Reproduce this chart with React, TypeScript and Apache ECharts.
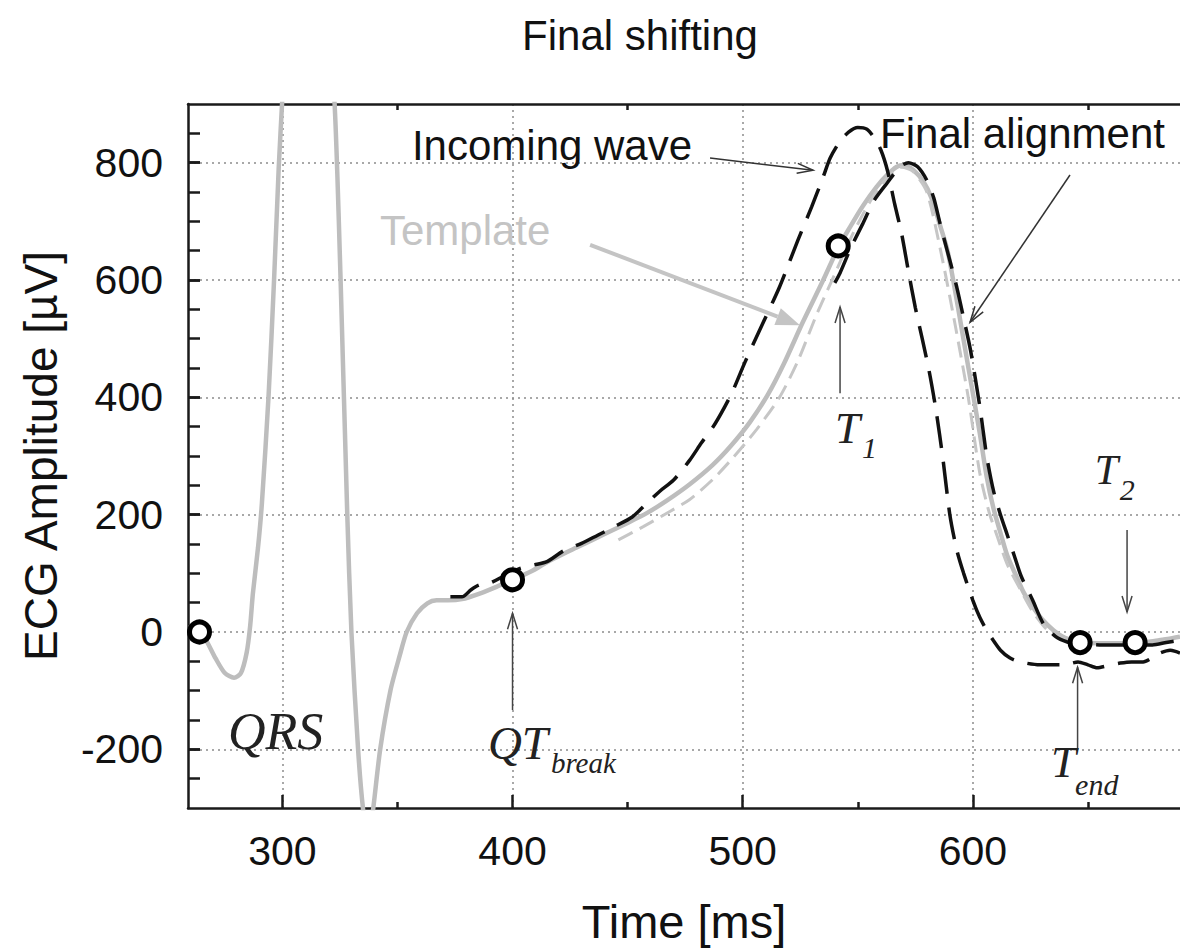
import React, { useEffect, useRef } from "react";
import * as echarts from "echarts";

type Pt = [number, number];

// ---------------- data (time in ms, amplitude in µV) ----------------
const templateWave: Pt[] = [
  [259, 8], [262, 4], [264, 0], [267, -15], [271, -45], [275, -70], [279, -78], [282, -70],
  [284.5, -35], [286, 10], [287.2, 66], [289.4, 143], [291.1, 219], [294, 402], [296.4, 601],
  [298.4, 790], [300, 910], [311, 1700], [322.7, 900], [325.3, 600], [328.2, 200], [330, 0],
  [332.9, -200], [335, -300], [337.3, -360], [339.5, -300], [342.5, -200], [347, -99], [351, -40],
  [354, 0], [358.5, 32], [363, 49], [367, 54], [372, 54], [378, 56], [386, 66], [393, 77],
  [400, 89], [408, 103], [415, 119], [422, 133], [429, 146], [440, 167], [450, 186], [458.5, 203],
  [467, 224], [477, 252], [487, 285], [495, 318], [503, 357], [511, 405], [518, 458], [526, 527],
  [535, 600], [541.5, 655], [546.6, 690], [552, 725], [558, 758], [563, 780], [567, 793],
  [570, 796], [574, 788], [578.5, 768], [582, 740], [586, 690], [589, 650], [592, 588],
  [595, 520], [598, 452], [603, 339], [606, 265], [609, 210], [612, 169], [615, 130], [619, 94],
  [622, 68], [626, 43], [630, 22], [635, 3], [640, -10], [647, -18], [655, -19], [663, -19],
  [670, -18], [676, -17], [681, -14], [686, -11], [690, -8],
];

const shiftedTemplate: Pt[] = [
  [446, 157], [457, 180], [465.5, 199], [477, 226], [487, 260], [496, 298], [506, 345],
  [516, 400], [524, 462], [532, 540], [540, 610], [548, 680], [556, 738], [563, 775],
  [569, 792], [574, 785], [580, 750], [586, 650], [592, 530], [598, 400], [603, 271],
  [607, 205], [610.7, 162], [615, 115], [620.7, 72], [626, 35], [632.5, 3], [640, -14],
];

const incomingWave: Pt[] = [
  [373, 60], [378, 60], [382, 72], [385.5, 80], [390, 83], [396, 95], [403, 108], [409, 114],
  [415, 120], [422, 138], [430, 151], [437, 165], [444, 179], [452, 196], [458, 218], [464, 240],
  [470, 259], [477, 293], [482, 322], [488, 355], [495, 405], [501, 460], [508, 520], [516, 588],
  [524, 668], [530, 725], [535, 776], [538, 808], [542, 835], [546, 852], [550, 860], [554, 857],
  [557, 843], [560, 822], [563, 785], [566, 730], [569, 680], [572, 615], [575, 553], [578, 500],
  [581, 445], [584, 378], [587, 295], [590, 200], [593, 140], [596, 100], [600, 54], [603, 25],
  [606, 3], [609, -15], [612, -31], [616, -44], [620.5, -51], [629, -56], [638, -56], [642, -54],
  [645.7, -51], [650, -56], [654, -61], [659, -57], [664, -53], [669, -51], [674, -51], [678, -44],
  [681.3, -36], [685.7, -31], [688, -33], [690, -36],
];

const finalAlignment: Pt[] = [
  [540, 595], [542.3, 612], [547, 655], [552.3, 697], [557, 735], [562.7, 765], [568.3, 793],
  [572, 800], [576, 793], [580, 770], [583, 740], [585.7, 697], [588.8, 651], [593, 588],
  [596, 535], [599, 480], [603, 385], [606, 300], [609, 240], [612, 200], [615, 165], [618, 130],
  [621, 95], [626, 54], [630.5, 15], [636, -8], [641, -17], [646, -20], [655, -22], [665, -22],
  [672, -22], [678, -22], [684, -18], [690, -14],
];

const fiducialPoints: Pt[] = [
  [264, 0], [400, 89], [541.5, 658], [646.6, -18], [670.5, -18],
];

const xTickValues = [300, 400, 500, 600];
const xMinorTickValues = [350, 450, 550, 650];
const yTickValues = [-200, 0, 200, 400, 600, 800];
const yAllTickValues = [
  -250, -200, -150, -100, -50, 0, 50, 100, 150, 200, 250, 300, 350, 400, 450, 500, 550, 600,
  650, 700, 750, 800, 850,
];

// ---------------- annotations (anchored in data coordinates) ----------------
const plainLabels = [
  { text: "Incoming wave", at: [356.3, 830] as Pt, color: "#111" },
  { text: "Final alignment", at: [559.7, 850] as Pt, color: "#111" },
  { text: "Template", at: [342.4, 685] as Pt, color: "#c4c4c4" },
];

const mathLabels = [
  { main: "QRS", sub: "", at: [276.4, -170] as Pt, size: 52, subSize: 28, dx: 0, dy: 0 },
  { main: "QT", sub: "break", at: [389.3, -190] as Pt, size: 47, subSize: 29, dx: 63, dy: 20 },
  { main: "T", sub: "1", at: [540.1, 348] as Pt, size: 45, subSize: 30, dx: 27, dy: 20 },
  { main: "T", sub: "2", at: [653, 276] as Pt, size: 42, subSize: 30, dx: 25, dy: 19 },
  { main: "T", sub: "end", at: [634, -222] as Pt, size: 45, subSize: 30, dx: 24, dy: 22 },
];

const arrows = [
  { from: [485.8, 808] as Pt, to: [530.6, 787] as Pt, color: "#333", width: 1.5, filled: false },
  { from: [642.2, 779] as Pt, to: [598.8, 528] as Pt, color: "#333", width: 1.5, filled: false },
  { from: [433.7, 660] as Pt, to: [524.9, 523] as Pt, color: "#c4c4c4", width: 4, filled: true },
  { from: [542.3, 407] as Pt, to: [542.3, 554] as Pt, color: "#444", width: 1.5, filled: false },
  { from: [400, -133] as Pt, to: [400, 32] as Pt, color: "#444", width: 1.5, filled: false },
  { from: [667, 174] as Pt, to: [667, 34] as Pt, color: "#444", width: 1.5, filled: false },
  { from: [645.5, -201] as Pt, to: [645.5, -60] as Pt, color: "#444", width: 1.5, filled: false },
];

const SANS = '"Liberation Sans", Arial, Helvetica, sans-serif';
const SERIF = '"Liberation Serif", "Times New Roman", serif';

export default function App() {
  const ref = useRef<HTMLDivElement>(null);

  useEffect(() => {
    document.body.style.margin = "0";
    const el = ref.current!;
    const chart = echarts.init(el, null, { renderer: "svg" });
    const axisCol = "#1a1a1a";
    const tickStyle = { color: axisCol, width: 2.5 };
    const gridStyle = { color: "#8c8c8c", width: 1.5, type: [2, 4] };
    const labelStyle = { fontSize: 41, fontFamily: SANS, color: "#111" };

    chart.setOption({
      animation: false,
      backgroundColor: "#ffffff",
      grid: { left: 188, right: 0, top: 104, bottom: 144, containLabel: false, outerBoundsMode: "none" },
      xAxis: [
        {
          type: "value", min: 259, max: 690, position: "bottom",
          axisLine: { show: true, onZero: false, lineStyle: tickStyle },
          axisTick: { show: true, inside: true, length: 13, customValues: xTickValues, lineStyle: tickStyle },
          axisLabel: { show: true, customValues: xTickValues, margin: 22, ...labelStyle },
          splitLine: { show: true, lineStyle: gridStyle },
          name: "Time [ms]", nameLocation: "middle", nameGap: 90,
          nameTextStyle: { fontSize: 47, fontFamily: SANS, color: "#111" },
        },
        {
          type: "value", min: 259, max: 690, position: "bottom",
          axisLine: { show: false, onZero: false },
          axisTick: { show: true, inside: true, length: 6, customValues: xMinorTickValues, lineStyle: tickStyle },
          axisLabel: { show: false },
          splitLine: { show: false },
        },
        {
          type: "value", min: 259, max: 690, position: "top",
          axisLine: { show: true, onZero: false, lineStyle: tickStyle },
          axisTick: { show: true, inside: true, length: 6, customValues: xMinorTickValues, lineStyle: tickStyle },
          axisLabel: { show: false },
          splitLine: { show: false },
        },
      ],
      yAxis: [
        {
          type: "value", min: -300, max: 900, position: "left",
          axisLine: { show: true, onZero: false, lineStyle: tickStyle },
          axisTick: { show: true, inside: true, length: 12, customValues: yTickValues, lineStyle: tickStyle },
          axisLabel: { show: true, customValues: yTickValues, margin: 25, ...labelStyle },
          splitLine: { show: true, lineStyle: gridStyle },
          name: "ECG Amplitude [µV]", nameLocation: "middle", nameGap: 124,
          nameTextStyle: { fontSize: 46, fontFamily: SANS, color: "#111" },
        },
        {
          type: "value", min: -300, max: 900, position: "left",
          axisLine: { show: false, onZero: false },
          axisTick: { show: true, inside: true, length: 12, customValues: yAllTickValues, lineStyle: tickStyle },
          axisLabel: { show: false },
          splitLine: { show: false },
        },
      ],
      series: [
        {
          name: "Template", type: "line", data: templateWave, showSymbol: false, smooth: 0.25,
          lineStyle: { color: "#bdbdbd", width: 4.5 }, z: 2,
        },
        {
          name: "Template (shifted)", type: "line", data: shiftedTemplate, showSymbol: false, smooth: 0.25,
          lineStyle: { color: "#c6c6c6", width: 3, type: [16, 8] }, z: 3,
        },
        {
          name: "Incoming wave", type: "line", data: incomingWave, showSymbol: false, smooth: 0.25,
          lineStyle: { color: "#111", width: 3.5, type: [32, 14] }, z: 4,
        },
        {
          name: "Final alignment", type: "line", data: finalAlignment, showSymbol: false, smooth: 0.25,
          lineStyle: { color: "#111", width: 3.5, type: [32, 14] }, z: 4,
        },
        {
          name: "Fiducial points", type: "scatter", data: fiducialPoints, symbol: "circle", symbolSize: 20,
          itemStyle: { color: "#ffffff", borderColor: "#000000", borderWidth: 5, opacity: 1 }, z: 6,
        },
      ],
    });

    const toPx = (p: Pt) => chart.convertToPixel({ xAxisIndex: 0, yAxisIndex: 0 }, p) as number[];
    const g: any[] = [];

    g.push({
      type: "text", x: 640, y: 35, silent: true,
      style: {
        text: "Final shifting", fontSize: 42, fontFamily: SANS, fill: "#111",
        align: "center", textAlign: "center", verticalAlign: "middle", textVerticalAlign: "middle",
      },
    });

    plainLabels.forEach((l) => {
      const [x, y] = toPx(l.at);
      g.push({
        type: "text", x, y, silent: true, z: 10,
        style: {
          text: l.text, fontSize: 42, fontFamily: SANS, fill: l.color,
          align: "left", textAlign: "left", verticalAlign: "middle", textVerticalAlign: "middle",
        },
      });
    });

    mathLabels.forEach((l) => {
      const [x, y] = toPx(l.at);
      g.push({
        type: "text", x, y, silent: true, z: 10,
        style: {
          text: l.main, fontSize: l.size, fontFamily: SERIF, fontStyle: "italic", fill: "#222",
          align: "left", textAlign: "left", verticalAlign: "middle", textVerticalAlign: "middle",
        },
      });
      if (l.sub) {
        g.push({
          type: "text", x: x + l.dx, y: y + l.dy, silent: true, z: 10,
          style: {
            text: l.sub, fontSize: l.subSize, fontFamily: SERIF, fontStyle: "italic", fill: "#222",
            align: "left", textAlign: "left", verticalAlign: "middle", textVerticalAlign: "middle",
          },
        });
      }
    });

    arrows.forEach((a) => {
      const [x1, y1] = toPx(a.from);
      const [x2, y2] = toPx(a.to);
      const ang = Math.atan2(y2 - y1, x2 - x1);
      const len = a.filled ? 24 : 16;
      const hw = a.filled ? 9 : 5;
      const bx = x2 - len * Math.cos(ang);
      const by = y2 - len * Math.sin(ang);
      const nx = -Math.sin(ang);
      const ny = Math.cos(ang);
      const left = [bx + nx * hw, by + ny * hw];
      const right = [bx - nx * hw, by - ny * hw];
      g.push({
        type: "line", silent: true, z: 9,
        shape: { x1, y1, x2: a.filled ? bx : x2, y2: a.filled ? by : y2 },
        style: { stroke: a.color, lineWidth: a.width },
      });
      if (a.filled) {
        g.push({
          type: "polygon", silent: true, z: 9,
          shape: { points: [left, [x2, y2], right] },
          style: { fill: a.color },
        });
      } else {
        g.push({
          type: "polyline", silent: true, z: 9,
          shape: { points: [left, [x2, y2], right] },
          style: { stroke: a.color, lineWidth: a.width, fill: "none" },
        });
      }
    });

    chart.setOption({ graphic: g });

    return () => chart.dispose();
  }, []);

  return <div ref={ref} style={{ width: 1180, height: 952 }} />;
}
